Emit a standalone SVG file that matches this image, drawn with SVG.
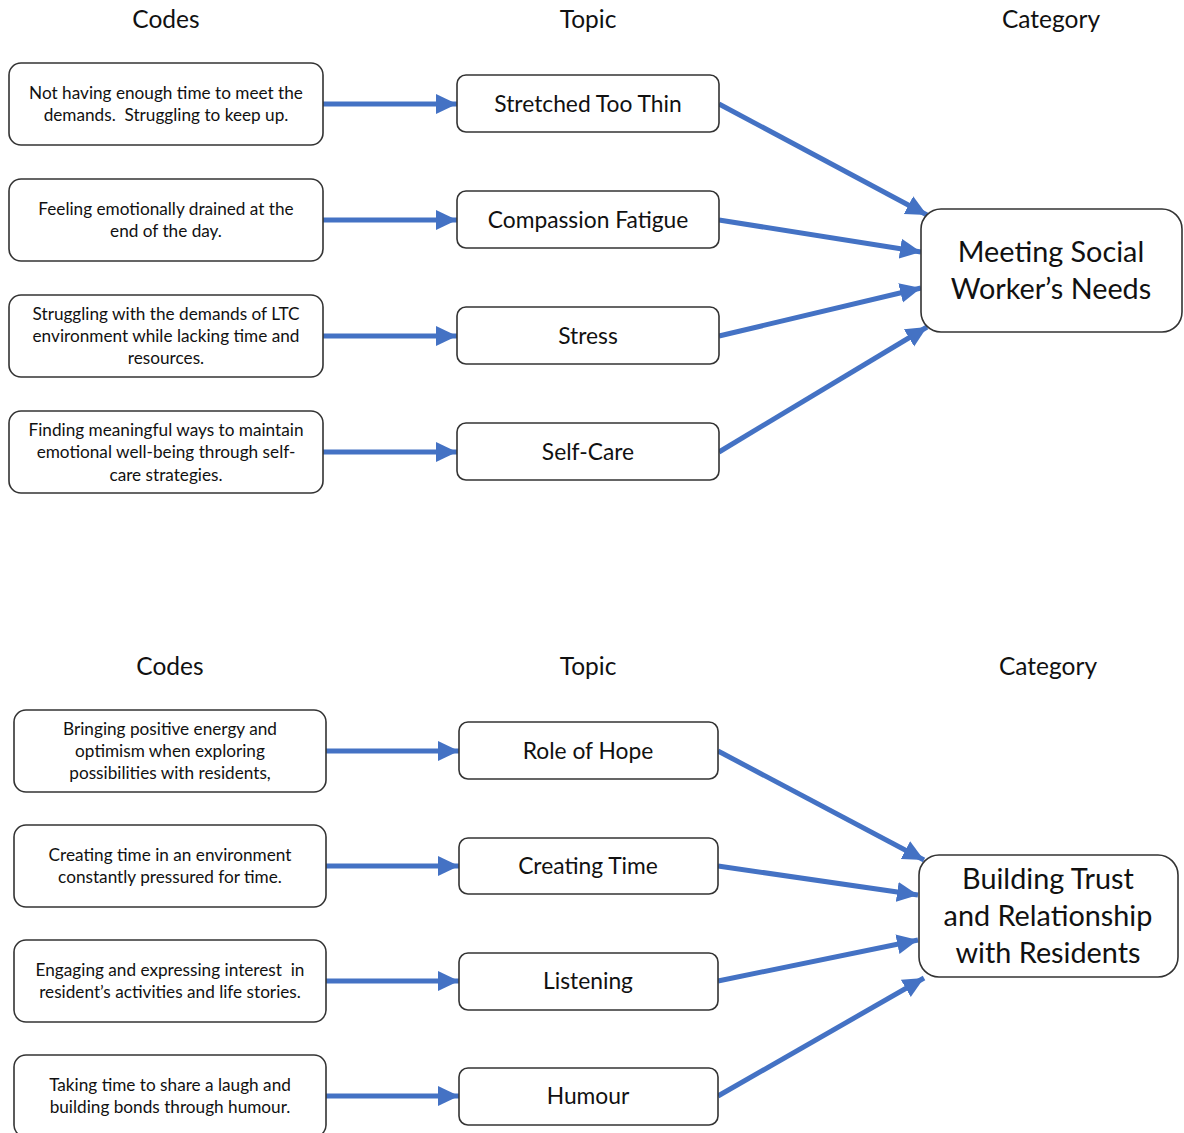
<svg xmlns="http://www.w3.org/2000/svg" width="1184" height="1133" viewBox="0 0 1184 1133">
  <style>
    text { white-space: pre; }
    .box { fill: #ffffff; stroke: #333333; stroke-width: 1.6; }
    .hdr { font-family: Lato, "Open Sans", sans-serif; font-size: 24.5px; fill: #111111; text-anchor: middle; }
    .code { font-family: Lato, "Open Sans", sans-serif; font-size: 17.2px; fill: #111111; text-anchor: middle; }
    .topic { font-family: Lato, "Open Sans", sans-serif; font-size: 22.8px; fill: #111111; text-anchor: middle; }
    .cat { font-family: Lato, "Open Sans", sans-serif; font-size: 28.8px; fill: #111111; text-anchor: middle; }
    .conn { stroke: #4472C4; stroke-width: 5; fill: none; marker-end: url(#head); }
  </style>
  <defs>
    <marker id="head" markerUnits="userSpaceOnUse" markerWidth="22" markerHeight="22" viewBox="0 0 22 22" refX="21" refY="11" orient="auto">
      <path d="M0,1 L21,11 L0,21 Z" fill="#4472C4"/>
    </marker>
  </defs>
  <rect width="1184" height="1133" fill="#ffffff"/>

  <!-- column headers -->
  <g id="headers">
    <text class="hdr" x="166" y="28">Codes</text>
    <text class="hdr" x="588" y="28">Topic</text>
    <text class="hdr" x="1051" y="28">Category</text>
    <text class="hdr" x="170" y="675">Codes</text>
    <text class="hdr" x="588" y="675">Topic</text>
    <text class="hdr" x="1048" y="675">Category</text>
  </g>

  <!-- connectors -->
  <g id="connectors">
    <line class="conn" x1="323" y1="104" x2="457" y2="104"/>
    <line class="conn" x1="323" y1="220" x2="457" y2="220"/>
    <line class="conn" x1="323" y1="336" x2="457" y2="336"/>
    <line class="conn" x1="323" y1="452" x2="457" y2="452"/>
    <line class="conn" x1="719" y1="104" x2="927" y2="215"/>
    <line class="conn" x1="719" y1="220" x2="921" y2="252"/>
    <line class="conn" x1="719" y1="336" x2="921" y2="288"/>
    <line class="conn" x1="719" y1="452" x2="927" y2="327"/>

    <line class="conn" x1="326" y1="751" x2="459" y2="751"/>
    <line class="conn" x1="326" y1="866" x2="459" y2="866"/>
    <line class="conn" x1="326" y1="981" x2="459" y2="981"/>
    <line class="conn" x1="326" y1="1096" x2="459" y2="1096"/>
    <line class="conn" x1="718" y1="751" x2="924" y2="860"/>
    <line class="conn" x1="718" y1="866" x2="918" y2="895"/>
    <line class="conn" x1="718" y1="981" x2="918" y2="940"/>
    <line class="conn" x1="718" y1="1096" x2="924" y2="978"/>
  </g>

  <!-- top: codes -->
  <g id="code-time">
    <rect class="box" x="9" y="63" width="314" height="82" rx="12"/>
    <text class="code" x="166" y="99">Not having enough time to meet the</text>
    <text class="code" x="166" y="121">demands.  Struggling to keep up.</text>
  </g>
  <g id="code-drained">
    <rect class="box" x="9" y="179" width="314" height="82" rx="12"/>
    <text class="code" x="166" y="215">Feeling emotionally drained at the</text>
    <text class="code" x="166" y="237">end of the day.</text>
  </g>
  <g id="code-ltc">
    <rect class="box" x="9" y="295" width="314" height="82" rx="12"/>
    <text class="code" x="166" y="320">Struggling with the demands of LTC</text>
    <text class="code" x="166" y="342">environment while lacking time and</text>
    <text class="code" x="166" y="364">resources.</text>
  </g>
  <g id="code-wellbeing">
    <rect class="box" x="9" y="411" width="314" height="82" rx="12"/>
    <text class="code" x="166" y="436">Finding meaningful ways to maintain</text>
    <text class="code" x="166" y="458">emotional well-being through self-</text>
    <text class="code" x="166" y="481">care strategies.</text>
  </g>

  <!-- top: topics -->
  <g id="topic-stretched">
    <rect class="box" x="457" y="75" width="262" height="57" rx="9"/>
    <text class="topic" x="588" y="112">Stretched Too Thin</text>
  </g>
  <g id="topic-fatigue">
    <rect class="box" x="457" y="191" width="262" height="57" rx="9"/>
    <text class="topic" x="588" y="228">Compassion Fatigue</text>
  </g>
  <g id="topic-stress">
    <rect class="box" x="457" y="307" width="262" height="57" rx="9"/>
    <text class="topic" x="588" y="344">Stress</text>
  </g>
  <g id="topic-selfcare">
    <rect class="box" x="457" y="423" width="262" height="57" rx="9"/>
    <text class="topic" x="588" y="460">Self-Care</text>
  </g>

  <!-- top: category -->
  <g id="category-needs">
    <rect class="box" x="921" y="209" width="261" height="123" rx="20"/>
    <text class="cat" x="1051" y="262">Meeting Social</text>
    <text class="cat" x="1051" y="299">Worker’s Needs</text>
  </g>

  <!-- bottom: codes -->
  <g id="code-hope">
    <rect class="box" x="14" y="710" width="312" height="82" rx="12"/>
    <text class="code" x="170" y="735">Bringing positive energy and</text>
    <text class="code" x="170" y="757">optimism when exploring</text>
    <text class="code" x="170" y="779">possibilities with residents,</text>
  </g>
  <g id="code-creating">
    <rect class="box" x="14" y="825" width="312" height="82" rx="12"/>
    <text class="code" x="170" y="861">Creating time in an environment</text>
    <text class="code" x="170" y="883">constantly pressured for time.</text>
  </g>
  <g id="code-listening">
    <rect class="box" x="14" y="940" width="312" height="82" rx="12"/>
    <text class="code" x="170" y="976">Engaging and expressing interest  in</text>
    <text class="code" x="170" y="998">resident’s activities and life stories.</text>
  </g>
  <g id="code-humour">
    <rect class="box" x="14" y="1055" width="312" height="82" rx="12"/>
    <text class="code" x="170" y="1091">Taking time to share a laugh and</text>
    <text class="code" x="170" y="1113">building bonds through humour.</text>
  </g>

  <!-- bottom: topics -->
  <g id="topic-hope">
    <rect class="box" x="459" y="722" width="259" height="57" rx="9"/>
    <text class="topic" x="588" y="759">Role of Hope</text>
  </g>
  <g id="topic-creating">
    <rect class="box" x="459" y="838" width="259" height="56" rx="9"/>
    <text class="topic" x="588" y="874">Creating Time</text>
  </g>
  <g id="topic-listening">
    <rect class="box" x="459" y="953" width="259" height="57" rx="9"/>
    <text class="topic" x="588" y="989">Listening</text>
  </g>
  <g id="topic-humour">
    <rect class="box" x="459" y="1068" width="259" height="57" rx="9"/>
    <text class="topic" x="588" y="1104">Humour</text>
  </g>

  <!-- bottom: category -->
  <g id="category-trust">
    <rect class="box" x="919" y="855" width="259" height="122" rx="20"/>
    <text class="cat" x="1048" y="889">Building Trust</text>
    <text class="cat" x="1048" y="926">and Relationship</text>
    <text class="cat" x="1048" y="963">with Residents</text>
  </g>
</svg>
